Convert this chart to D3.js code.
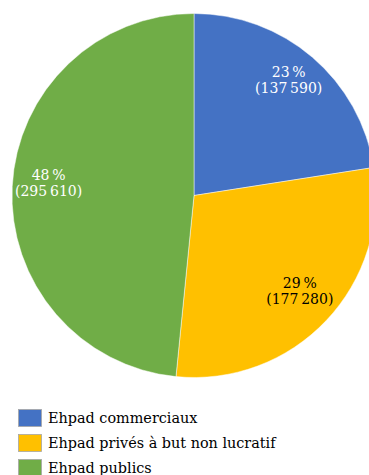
<!DOCTYPE html>
<html>
<head>
<meta charset="utf-8">
<script src="https://cdn.jsdelivr.net/npm/d3@7"></script>
<style>
  html, body { margin: 0; padding: 0; background: #fff; }
  svg { display: block; }
  text { font-family: "DejaVu Serif", "Liberation Serif", serif; }
</style>
</head>
<body>
<svg id="chart" width="369" height="475"></svg>
<script>
// Places in Ehpad by status
const categories = ["Ehpad commerciaux", "Ehpad privés à but non lucratif", "Ehpad publics"];
const places = [137590, 177280, 295610];
const shares = ["23", "29", "48"];
const colors = ["#4472C4", "#FFC000", "#70AD47"];
const labelColors = ["#ffffff", "#000000", "#ffffff"];

const svg = d3.select("#chart");
const cx = 194, cy = 195.5, r = 182;

const fmt = d3.formatLocale({ decimal: ",", thousands: "\u202F", grouping: [3] }).format(",d");

const pie = d3.pie().sort(null).value(d => d)(places);
const arc = d3.arc().innerRadius(0).outerRadius(r);
const labelArc = d3.arc().innerRadius(r * 0.8).outerRadius(r * 0.8);

const g = svg.append("g").attr("transform", `translate(${cx},${cy})`);

g.selectAll("path.slice")
  .data(pie)
  .join("path")
  .attr("class", "slice")
  .attr("d", arc)
  .attr("fill", (d, i) => colors[i])
  .attr("stroke", "#ffffff")
  .attr("stroke-opacity", 0.6)
  .attr("stroke-width", 0.8);

// Share and count inside each slice, two lines centred on the label point
const lbl = g.selectAll("text.lbl")
  .data(pie)
  .join("text")
  .attr("class", "lbl")
  .attr("text-anchor", "middle")
  .attr("font-size", 14)
  .attr("fill", (d, i) => labelColors[i])
  .attr("transform", d => {
    const [x, y] = labelArc.centroid(d);
    return `translate(${x},${y})`;
  });

lbl.append("tspan")
  .attr("x", 0)
  .attr("y", -8)
  .text((d, i) => shares[i] + "\u202F%");
lbl.append("tspan")
  .attr("x", 0)
  .attr("y", 8)
  .text(d => "(" + fmt(d.data) + ")");

// Legend
const legend = svg.append("g").attr("transform", "translate(18,409)");
const item = legend.selectAll("g")
  .data(categories)
  .join("g")
  .attr("transform", (d, i) => `translate(0,${i * 25})`);

item.append("rect")
  .attr("x", 0.5)
  .attr("y", 0.5)
  .attr("width", 23)
  .attr("height", 17)
  .attr("fill", (d, i) => colors[i])
  .attr("stroke", "#a6a6a6")
  .attr("stroke-width", 0.8);

item.append("text")
  .attr("x", 30)
  .attr("y", 14)
  .attr("font-size", 14.4)
  .attr("fill", "#000")
  .text(d => d);
</script>
</body>
</html>
